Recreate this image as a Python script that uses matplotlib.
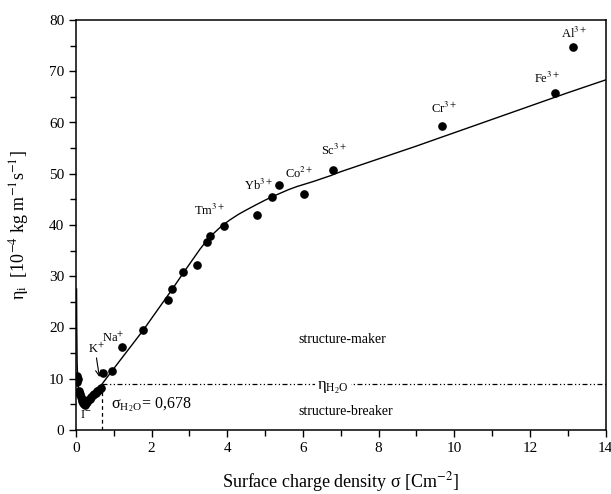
import matplotlib
matplotlib.use("Agg")
import matplotlib.pyplot as plt
from matplotlib.ticker import MultipleLocator

plt.rcParams['font.family'] = ['Liberation Serif', 'DejaVu Serif']
plt.rcParams['mathtext.fontset'] = 'stix'

# measured ions: surface charge density vs viscosity coefficient
sigma = [0.02, 0.03, 0.05, 0.07, 0.09, 0.11, 0.13, 0.15, 0.17, 0.19, 0.21, 0.23,
         0.25, 0.27, 0.30, 0.33, 0.36, 0.40, 0.44, 0.48, 0.52, 0.56, 0.60, 0.65,
         0.71, 0.95, 1.21, 1.78, 2.43, 2.53, 2.83, 3.19, 3.46, 3.53, 3.90, 4.78,
         5.19, 5.38, 6.03, 6.80, 9.69, 12.66, 13.14]
eta = [10.6, 9.4, 10.0, 7.6, 7.3, 7.0, 6.5, 6.0, 5.6, 5.3, 5.1, 4.9,
       5.0, 5.2, 5.5, 5.8, 6.1, 6.4, 6.8, 7.0, 7.3, 7.6, 7.8, 8.2,
       11.2, 11.6, 16.1, 19.5, 25.4, 27.6, 30.8, 32.1, 36.7, 37.8, 39.8, 41.9,
       45.5, 47.9, 46.0, 50.8, 59.3, 65.8, 74.7]

# fitted curve
fit_x = [0.015, 0.02, 0.03, 0.05, 0.08, 0.12, 0.18, 0.25, 0.32, 0.40, 0.50, 0.63,
         1.0, 1.5, 1.78, 2.0, 2.5, 2.88, 3.28, 3.45, 3.63, 3.85, 4.07, 4.3, 4.52,
         4.75, 4.96, 5.18, 5.40, 5.62, 5.84, 6.06, 6.28, 6.72, 7.0, 8.0, 9.0, 9.69,
         10.0, 11.0, 12.0, 13.0, 14.0]
fit_y = [27.5, 20.0, 13.0, 9.0, 7.0, 5.9, 5.3, 5.2, 5.5, 6.0, 6.9, 8.4,
         12.0, 16.8, 19.5, 21.8, 27.0, 31.1, 35.3, 36.9, 38.3, 39.8, 41.0, 42.1, 43.0,
         43.9, 44.7, 45.5, 46.2, 46.9, 47.5, 48.0, 48.5, 49.6, 50.4, 52.9, 55.4, 57.2,
         58.0, 60.6, 63.2, 65.8, 68.3]

sigma_h2o = 0.678
eta_h2o = 8.9

ion_labels = ['Tm$^{3+}$', 'Yb$^{3+}$', 'Co$^{2+}$', 'Sc$^{3+}$', 'Cr$^{3+}$', 'Fe$^{3+}$', 'Al$^{3+}$']
ion_label_x = [3.54, 4.82, 5.90, 6.81, 9.74, 12.45, 13.16]
ion_label_y = [42.9, 47.8, 50.1, 54.6, 62.8, 68.6, 77.4]

fig = plt.figure(figsize=(6.11, 4.94), dpi=100)
ax = fig.add_axes([76/611, 64/494, 529.5/611, 410/494])

ax.plot(fit_x, fit_y, color='black', lw=1.0)
ax.plot(sigma, eta, 'o', color='black', ms=5.2)

# water reference lines
ax.plot([sigma_h2o, sigma_h2o], [0, eta_h2o], color='black', lw=0.9, ls=(0, (3, 2.5)))
ax.plot([sigma_h2o, 14], [eta_h2o, eta_h2o], color='black', lw=0.9,
        ls=(0, (4, 2, 1, 2, 1, 2)))
ax.text(6.8, 8.3, 'η$_\\mathregular{H_2O}$', fontsize=12, ha='center', va='center',
        bbox=dict(facecolor='white', edgecolor='none', pad=1.5))

ax.text(5.87, 17.6, 'structure-maker', fontsize=10, va='center')
ax.text(5.87, 3.6, 'structure-breaker', fontsize=10, va='center')
ax.text(0.93, 4.9, 'σ$_\\mathregular{H_2O}$= 0,678', fontsize=11.5, va='center')
ax.text(0.26, 3.0, 'I$^{-}$', fontsize=9, ha='center', va='center')
ax.text(0.54, 15.8, 'K$^{+}$', fontsize=9, ha='center', va='center')
ax.text(0.99, 17.9, 'Na$^{+}$', fontsize=9, ha='center', va='center')
ax.annotate('', xy=(0.63, 9.8), xytext=(0.53, 14.6),
            arrowprops=dict(arrowstyle='->', color='black', lw=0.8))

for lab, lx, ly in zip(ion_labels, ion_label_x, ion_label_y):
    ax.text(lx, ly, lab, fontsize=9, ha='center', va='center')

ax.set_xlim(0, 14)
ax.set_ylim(0, 80)
ax.xaxis.set_major_locator(MultipleLocator(2))
ax.xaxis.set_minor_locator(MultipleLocator(1))
ax.yaxis.set_major_locator(MultipleLocator(10))
ax.yaxis.set_minor_locator(MultipleLocator(5))
ax.tick_params(which='both', direction='out', top=False, right=False, labelsize=11, width=1)
ax.tick_params(which='major', length=5)
ax.tick_params(which='minor', length=4)
for s in ax.spines.values():
    s.set_linewidth(1.1)

ax.set_xlabel('Surface charge density σ [Cm$^{-2}$]', fontsize=13, labelpad=11)
ax.set_ylabel('η$_\\mathregular{i}$  [10$^{-4}$ kg m$^{-1}$s$^{-1}$]', fontsize=13, labelpad=13)

fig.savefig('out.png', dpi=100)
